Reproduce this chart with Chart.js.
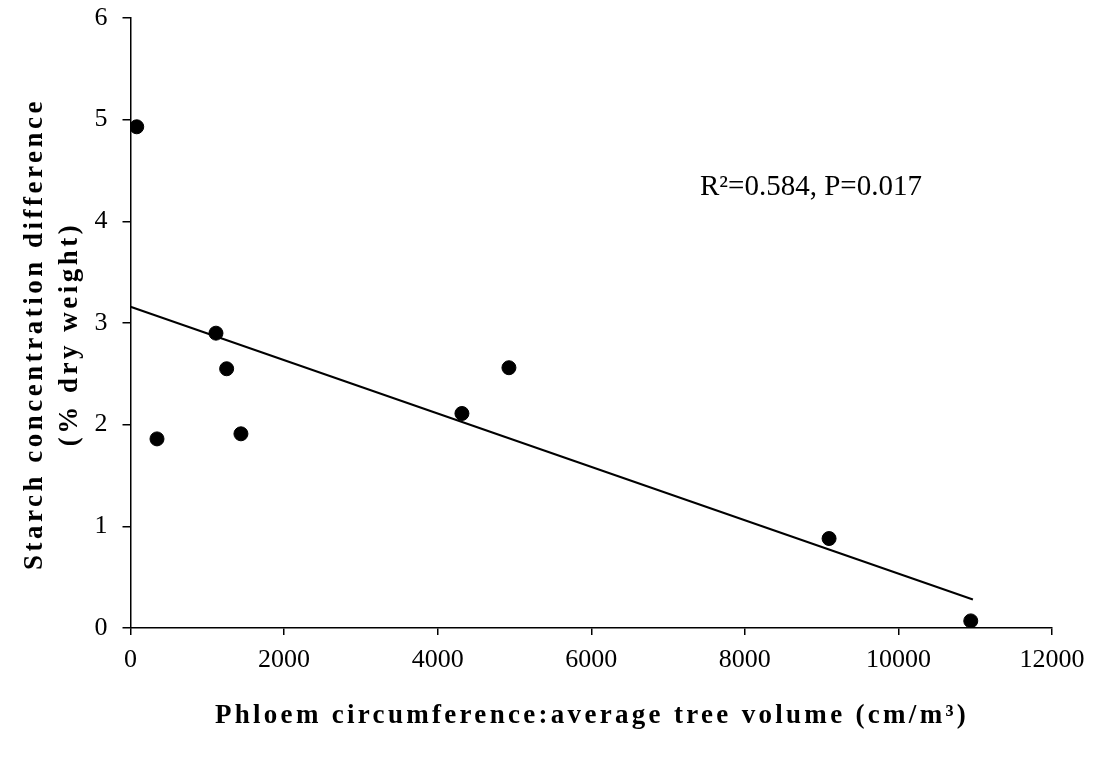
<!DOCTYPE html>
<html>
<head>
<meta charset="utf-8">
<script src="https://cdn.jsdelivr.net/npm/chart.js@4/dist/chart.umd.min.js"></script>
<style>
html,body{margin:0;padding:0;background:#fff;}
#wrap{width:1096px;height:759px;position:relative;}
</style>
</head>
<body>
<div id="wrap"><canvas id="c" width="1096" height="759"></canvas></div>
<script>
// Data
const ratioX = [81, 345, 1113, 1252, 1438, 4316, 4928, 9097, 10942];
const starchY = [4.93, 1.86, 2.90, 2.55, 1.91, 2.11, 2.56, 0.88, 0.07];
const trendX = [0, 10970];
const trendY = [3.16, 0.28];
const xTicks = [0, 2000, 4000, 6000, 8000, 10000, 12000];
const yTicks = [0, 1, 2, 3, 4, 5, 6];
const xTitle = 'Phloem circumference:average tree volume (cm/m\u00B3)';
const yTitle = ['Starch concentration difference', '(% dry weight)'];
const statText = 'R\u00B2=0.584, P=0.017';

const FONT = '"Liberation Serif", "Times New Roman", serif';

const titlePlugin = {
  id: 'titles',
  afterDraw(chart) {
    const ctx = chart.ctx;
    ctx.save();
    ctx.fillStyle = '#000';
    ctx.textAlign = 'center';
    ctx.textBaseline = 'middle';
    // x title
    ctx.font = 'bold 27px ' + FONT;
    ctx.letterSpacing = '3.3px';
    ctx.fillText(xTitle, 592, 716);
    // y title
    ctx.letterSpacing = '3.5px';
    ctx.translate(0, 334);
    ctx.rotate(-Math.PI / 2);
    ctx.fillText(yTitle[0], 0, 35);
    ctx.fillText(yTitle[1], 0, 70);
    ctx.restore();
    // stats annotation
    ctx.save();
    ctx.font = '29px ' + FONT;
    ctx.fillStyle = '#000';
    ctx.textAlign = 'left';
    ctx.textBaseline = 'middle';
    ctx.fillText(statText, 700, 187);
    ctx.restore();
  }
};

new Chart(document.getElementById('c'), {
  type: 'scatter',
  data: {
    datasets: [
      {
        label: 'Starch',
        data: ratioX.map((x, i) => ({x: x, y: starchY[i]})),
        backgroundColor: '#000',
        borderColor: '#000',
        pointRadius: 7,
        pointHoverRadius: 7,
        showLine: false
      },
      {
        label: 'Trend',
        type: 'line',
        data: trendX.map((x, i) => ({x: x, y: trendY[i]})),
        borderColor: '#000',
        borderWidth: 2,
        pointRadius: 0,
        fill: false
      }
    ]
  },
  options: {
    responsive: false,
    animation: false,
    layout: {padding: {top: 18, right: 44, left: 0, bottom: 0}},
    plugins: {legend: {display: false}, tooltip: {enabled: false}},
    scales: {
      x: {
        type: 'linear',
        min: 0, max: 12000,
        afterBuildTicks: (s) => { s.ticks = xTicks.map(v => ({value: v})); },
        afterFit: (s) => { s.height = 131; s.paddingLeft = 0; s.paddingRight = 0; },
        border: {display: true, color: '#000', width: 1.5},
        grid: {drawOnChartArea: false, drawTicks: true, tickLength: 7, color: '#000', lineWidth: 1.5},
        ticks: {color: '#000', font: {family: FONT, size: 26}, padding: 10, maxRotation: 0,
                callback: (v) => String(v)}
      },
      y: {
        type: 'linear',
        min: 0, max: 6,
        afterBuildTicks: (s) => { s.ticks = yTicks.map(v => ({value: v})); },
        afterFit: (s) => { s.width = 130.5; s.paddingTop = 0; s.paddingBottom = 0; },
        border: {display: true, color: '#000', width: 1.5},
        grid: {drawOnChartArea: false, drawTicks: true, tickLength: 8, color: '#000', lineWidth: 1.5},
        ticks: {color: '#000', font: {family: FONT, size: 26}, padding: 15,
                callback: (v) => String(v)}
      }
    }
  },
  plugins: [titlePlugin]
});
</script>
</body>
</html>
